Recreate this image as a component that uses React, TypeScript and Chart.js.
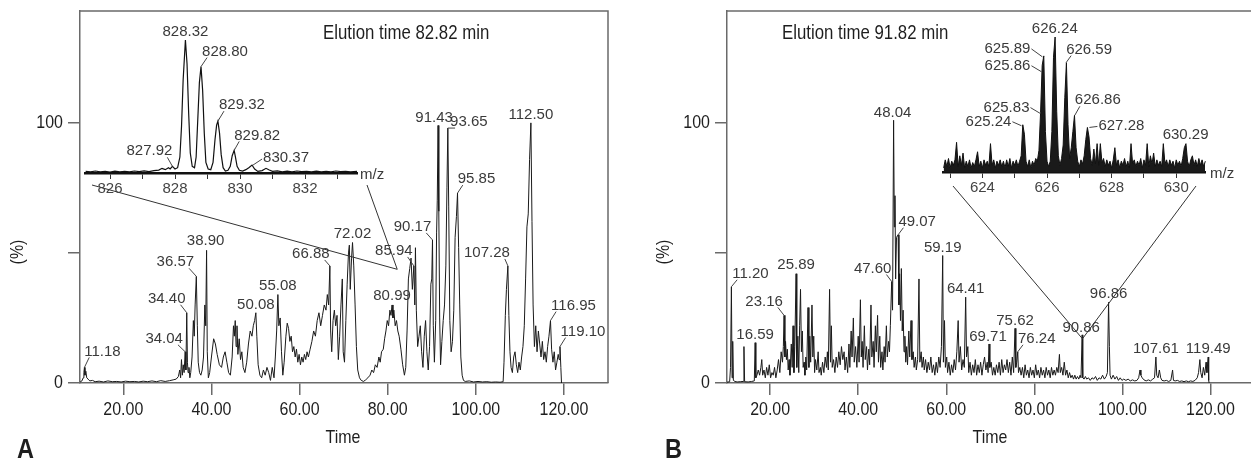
import React, { useEffect, useRef } from 'react';
import { Chart, registerables } from 'chart.js';

Chart.register(...registerables);

const ARIAL = '"Liberation Sans", Arial, Helvetica, sans-serif';
const NARROW_SCALE = 0.84;
const AXIS_GRAY = '#6a6a6a';
const TEXT = '#1e1e1e';
const LABEL_GRAY = '#3a3a3a';

// ---------- main axes ----------
const xTicksMain = [20, 40, 60, 80, 100, 120];
const xTickLabelsMain = ['20.00', '40.00', '60.00', '80.00', '100.00', '120.00'];
const yTicksMain = [0, 50, 100];
const yTickLabelsMain = ['0', '', '100'];

// ---------- Panel A chromatogram: [time (min), relative abundance (%)] ----------
const traceA: [number, number][] = [
  [10.2,0.4],[10.6,0.8],[10.9,2],[11.05,4],[11.18,6],[11.3,3],[11.5,4.5],[11.7,2],[12.0,1.5],[12.4,0.8],[13.0,1],[13.6,0.5],[14.5,0.7],[15.5,0.4],[16.5,0.8],[17.5,0.5],[18.5,0.6],[19.5,0.4],[20.5,0.7],[21.5,0.5],[22.5,0.6],[23.5,0.4],[24.5,0.7],[25.5,0.5],[26.5,0.8],[27.5,0.5],[28.5,0.9],[29.5,0.6],[30.5,0.9],[31.3,1.2],[32.0,1.5],[32.5,2.5],[32.8,5],[33.0,2],[33.2,9],[33.4,3],[33.6,7],[33.8,4],[34.04,12],[34.2,5],[34.40,27],[34.55,8],[34.7,4],[34.9,6],[35.1,2],[35.3,4],[35.6,10],[35.9,24],[36.1,18],[36.3,30],[36.57,41],[36.8,22],[37.0,8],[37.3,4],[37.6,3],[37.9,5],[38.2,10],[38.5,30],[38.7,22],[38.90,51],[39.05,12],[39.3,2],[39.6,4],[40.0,10],[40.5,17],[40.9,15],[41.3,11],[41.8,7],[42.3,6],[42.7,10],[43.1,12],[43.5,8],[43.9,4],[44.3,3],[44.7,10],[45.0,22],[45.2,18],[45.4,24],[45.6,14],[45.8,22],[46.0,11],[46.3,17],[46.6,9],[46.9,12],[47.2,6],[47.6,4],[48.0,8],[48.4,15],[48.8,20],[49.2,18],[49.5,22],[49.8,24],[50.08,27],[50.3,18],[50.6,7],[51.0,3],[51.4,2],[51.8,5],[52.2,3],[52.6,6],[53.0,4],[53.4,1],[53.8,6],[54.2,2],[54.5,10],[54.8,20],[55.08,34],[55.3,22],[55.6,25],[55.9,12],[56.2,3],[56.5,8],[56.9,18],[57.2,23],[57.5,21],[57.8,16],[58.1,18],[58.4,12],[58.7,14],[59.0,10],[59.3,13],[59.6,8],[59.9,11],[60.2,7],[60.5,10],[60.8,8],[61.1,11],[61.4,9],[61.7,12],[62.0,10],[62.4,13],[62.8,16],[63.2,20],[63.6,18],[64.0,24],[64.4,27],[64.8,22],[65.2,26],[65.6,30],[66.0,28],[66.3,34],[66.6,30],[66.88,45],[67.05,20],[67.3,12],[67.6,24],[67.9,28],[68.2,22],[68.5,26],[68.8,9],[69.1,18],[69.4,30],[69.7,40],[69.9,12],[70.2,8],[70.5,24],[70.8,38],[71.1,50],[71.3,53],[71.5,36],[71.8,48],[72.02,54],[72.3,45],[72.6,30],[72.9,14],[73.2,5],[73.6,2],[74.0,1],[74.5,0.6],[75.0,1.2],[75.5,2],[76.0,3],[76.4,5],[76.8,4],[77.2,7],[77.6,6],[78.0,10],[78.3,8],[78.6,12],[79.0,13],[79.3,17],[79.6,20],[79.9,24],[80.2,22],[80.5,28],[80.75,26],[80.99,30],[81.2,25],[81.4,28],[81.7,22],[82.0,24],[82.3,20],[82.6,18],[83.0,13],[83.4,7],[83.8,3],[84.1,6],[84.4,20],[84.7,40],[85.0,44],[85.3,48],[85.6,36],[85.94,45],[86.15,30],[86.3,52],[86.5,28],[86.8,14],[87.1,18],[87.4,22],[87.7,12],[88.0,6],[88.3,18],[88.6,24],[88.9,12],[89.2,5],[89.5,14],[89.8,38],[90.0,40],[90.17,55],[90.35,22],[90.6,8],[90.9,24],[91.1,58],[91.25,70],[91.43,99],[91.6,66],[91.8,25],[92.0,7],[92.3,16],[92.6,24],[92.9,30],[93.2,45],[93.45,75],[93.65,98],[93.85,68],[94.1,24],[94.4,12],[94.7,16],[95.0,28],[95.3,56],[95.6,64],[95.85,73],[96.1,52],[96.35,30],[96.6,10],[96.9,3],[97.2,1],[97.6,0.6],[98.5,0.8],[99.5,0.4],[100.5,0.6],[101.5,0.4],[102.5,0.5],[103.5,0.3],[104.5,0.4],[105.5,0.3],[106.2,0.5],[106.4,8],[106.7,26],[106.95,36],[107.28,45],[107.5,26],[107.75,12],[108.0,6],[108.3,4],[108.6,10],[108.9,12],[109.2,7],[109.5,4],[109.8,8],[110.1,5],[110.4,10],[110.7,14],[111.0,22],[111.3,40],[111.6,60],[111.9,65],[112.2,86],[112.50,100],[112.75,62],[113.0,30],[113.3,14],[113.6,22],[113.9,12],[114.2,20],[114.5,15],[114.8,10],[115.1,16],[115.4,9],[115.7,12],[116.0,8],[116.3,14],[116.6,18],[116.95,24],[117.2,13],[117.5,8],[117.8,12],[118.1,5],[118.4,8],[118.7,11],[118.9,9],[119.10,14],[119.3,6],[119.45,0]
];

// ---------- Panel B chromatogram ----------
const traceB: [number, number][] = [
  [10.2,0.3],[10.8,0.5],[11.0,6],[11.2,37],[11.35,2],[11.5,16],[11.65,1],[12.0,0.6],[12.5,0.4],[13.2,0.5],[13.9,0.6],[14.05,14],[14.2,0.5],[15.0,0.4],[15.8,0.6],[16.4,0.8],[16.59,15.5],[16.75,2],[17.0,3],[17.3,5],[17.6,3],[17.9,6],[18.1,9],[18.3,3],[18.6,5],[18.9,2],[19.2,6],[19.5,3],[19.8,7],[20.1,2],[20.4,4],[20.7,3],[21.0,6],[21.3,2],[21.6,5],[21.9,9],[22.2,4],[22.5,12],[22.8,8],[23.0,14],[23.16,26],[23.35,10],[23.5,16],[23.7,9],[23.9,13],[24.1,5],[24.3,9],[24.5,3],[24.8,15],[25.0,6],[25.2,22],[25.4,4],[25.6,14],[25.89,42],[26.05,6],[26.3,18],[26.5,4],[26.7,22],[26.9,36],[27.1,12],[27.3,20],[27.5,6],[27.7,8],[27.9,3],[28.1,10],[28.3,5],[28.6,29],[28.8,6],[29.0,18],[29.2,8],[29.5,30],[29.7,10],[29.9,18],[30.1,4],[30.3,9],[30.6,5],[30.9,12],[31.1,4],[31.4,6],[31.6,3],[31.9,8],[32.2,4],[32.5,10],[32.8,6],[33.0,12],[33.2,5],[33.5,36],[33.7,8],[33.9,22],[34.1,6],[34.4,9],[34.7,4],[35.0,10],[35.3,6],[35.6,12],[35.9,7],[36.2,14],[36.5,9],[36.8,12],[37.0,5],[37.3,10],[37.6,4],[37.9,15],[38.1,6],[38.4,20],[38.6,10],[38.9,25],[39.1,8],[39.4,14],[39.7,6],[40.0,18],[40.2,8],[40.5,32],[40.7,10],[40.9,16],[41.1,6],[41.4,22],[41.6,9],[41.9,14],[42.1,5],[42.4,13],[42.6,7],[42.9,30],[43.1,10],[43.4,16],[43.6,6],[43.9,22],[44.1,12],[44.4,26],[44.6,8],[44.9,18],[45.1,6],[45.4,12],[45.6,5],[45.9,14],[46.1,8],[46.4,22],[46.6,10],[46.9,16],[47.1,12],[47.3,22],[47.60,39],[47.8,28],[48.04,101],[48.2,60],[48.35,72],[48.5,40],[48.7,56],[49.07,57],[49.25,30],[49.4,42],[49.6,24],[49.8,44],[50.0,20],[50.2,28],[50.4,12],[50.6,18],[50.8,8],[51.0,14],[51.2,7],[51.5,20],[51.7,10],[52.0,24],[52.2,9],[52.5,12],[52.7,6],[53.0,10],[53.2,5],[53.5,9],[53.8,40],[54.0,8],[54.3,12],[54.5,6],[54.8,10],[55.0,5],[55.3,9],[55.6,4],[55.9,8],[56.2,5],[56.5,10],[56.8,4],[57.1,7],[57.4,3],[57.7,8],[58.0,4],[58.3,10],[58.6,6],[58.9,14],[59.19,49],[59.35,8],[59.6,24],[59.8,6],[60.1,10],[60.3,4],[60.6,8],[60.9,3],[61.2,7],[61.5,4],[61.8,9],[62.1,5],[62.4,12],[62.7,24],[62.9,8],[63.2,14],[63.5,5],[63.8,9],[64.1,6],[64.41,33],[64.6,10],[64.9,14],[65.1,4],[65.4,8],[65.7,3],[66.0,7],[66.3,4],[66.6,9],[66.9,3],[67.2,7],[67.5,4],[67.8,8],[68.1,3],[68.4,7],[68.7,10],[69.0,5],[69.3,8],[69.5,4],[69.71,15],[69.9,6],[70.2,8],[70.5,3],[70.8,6],[71.1,3],[71.4,7],[71.7,4],[72.0,8],[72.3,3],[72.6,9],[72.9,4],[73.2,7],[73.5,5],[73.8,9],[74.1,4],[74.4,8],[74.7,3],[75.0,10],[75.3,4],[75.62,21],[75.8,6],[76.0,8],[76.24,12],[76.4,4],[76.7,6],[77.0,3],[77.3,6],[77.6,2],[77.9,7],[78.2,3],[78.5,5],[78.8,2],[79.1,6],[79.4,3],[79.7,5],[80.0,2],[80.3,7],[80.6,3],[80.9,5],[81.2,2],[81.5,6],[81.8,3],[82.1,5],[82.4,2],[82.7,6],[83.0,3],[83.3,5],[83.6,2],[83.9,6],[84.2,3],[84.5,5],[84.8,3],[85.1,6],[85.4,4],[85.7,11],[85.9,4],[86.2,6],[86.5,3],[86.8,8],[87.1,3],[87.4,5],[87.7,2],[88.0,4],[88.3,2],[88.6,3],[88.9,1.5],[89.2,3],[89.5,1.5],[89.8,2.5],[90.1,1.5],[90.4,3],[90.6,2],[90.86,18.5],[91.0,2],[91.3,1.5],[91.6,2.5],[91.9,1.5],[92.3,2],[92.7,1],[93.1,2],[93.5,1.5],[93.9,2.5],[94.3,1],[94.7,2],[95.1,1.5],[95.5,3],[95.9,1.5],[96.3,2.5],[96.6,4],[96.86,31],[97.05,14],[97.2,3],[97.5,1.5],[97.9,3],[98.3,1.5],[98.7,2.5],[99.1,1],[99.5,2],[99.9,1],[100.3,1.5],[100.8,1],[101.3,1.5],[101.8,0.8],[102.3,1.2],[102.8,0.8],[103.3,1],[103.7,2],[104.0,5],[104.2,3],[104.5,2],[104.9,1.2],[105.4,0.8],[105.9,1.2],[106.4,0.8],[106.9,1.5],[107.3,2],[107.61,10],[107.8,3],[108.1,2],[108.4,5],[108.7,2],[109.0,1],[109.5,0.8],[110.0,1],[110.5,0.6],[111.0,1],[111.4,5],[111.6,1],[112.0,0.8],[112.5,1],[113.0,0.6],[113.5,0.8],[114.0,0.5],[114.5,0.8],[115.0,0.5],[115.5,0.8],[116.0,0.6],[116.5,1],[117.0,2],[117.3,4],[117.6,9],[117.8,4],[118.1,2],[118.4,6],[118.7,3],[119.0,8],[119.2,4],[119.49,10],[119.6,1],[119.7,0]
];

// ---------- Peak labels (text, x value, y value) ----------
type Lbl = [string, number, number];
const peakLabelsA: Lbl[] = [
  ['11.18',11.18,6],['34.04',34.04,12],['34.40',34.40,27],['36.57',36.57,41],['38.90',38.90,51],['50.08',50.08,27],['55.08',55.08,34],['66.88',66.88,45],['72.02',72.02,54],['80.99',80.99,30],['85.94',85.94,45],['90.17',90.17,55],['91.43',91.43,99],['93.65',93.65,98],['95.85',95.85,73],['107.28',107.28,45],['112.50',112.50,100],['116.95',116.95,24],['119.10',119.10,14]
];
const peakLabelsB: Lbl[] = [
  ['11.20',11.2,37],['16.59',16.59,15.5],['23.16',23.16,26],['25.89',25.89,42],['47.60',47.60,39],['48.04',48.04,101],['49.07',49.07,57],['59.19',59.19,49],['64.41',64.41,33],['69.71',69.71,15],['75.62',75.62,21],['76.24',76.24,12],['90.86',90.86,18.5],['96.86',96.86,31],['107.61',107.61,10],['119.49',119.49,10]
];

// ---------- Inset A: mass spectrum at 82.82 min [m/z, relative intensity] ----------
const insetA: [number, number][] = [
  [825.25,1.2],[825.4,0.8],[825.55,1.5],[825.7,0.9],[825.85,1.3],[826.0,0.7],[826.15,1.4],[826.3,0.9],[826.45,1.2],[826.6,0.8],[826.75,1.5],[826.9,1.0],[827.05,1.6],[827.2,1.1],[827.35,1.8],[827.5,2.2],[827.6,3.5],[827.7,2.5],[827.8,4],[827.85,3],[827.92,5],[828.0,3],[828.08,4],[828.15,12],[828.2,35],[828.25,70],[828.32,100],[828.37,82],[828.42,45],[828.47,15],[828.53,5],[828.6,4],[828.65,12],[828.7,40],[828.75,68],[828.80,80],[828.85,62],[828.9,30],[828.95,8],[829.02,3],[829.1,2.5],[829.17,8],[829.23,25],[829.28,36],[829.32,39],[829.37,30],[829.42,14],[829.48,4],[829.55,1.5],[829.63,2],[829.7,5],[829.76,13],[829.82,17],[829.86,12],[829.91,5],[829.98,2],[830.08,1.5],[830.18,2.5],[830.27,4],[830.37,6],[830.45,3],[830.55,1.2],[830.68,1.8],[830.8,3.5],[830.9,2.2],[831.0,1.2],[831.15,1.6],[831.3,0.9],[831.45,1.4],[831.6,0.8],[831.75,1.5],[831.9,1.0],[832.05,1.3],[832.2,0.8],[832.35,1.4],[832.5,0.9],[832.65,1.3],[832.8,0.8],[832.95,1.5],[833.1,1.0],[833.25,1.3],[833.4,0.9],[833.6,1.2]
];
const insetTicksA = [826, 827, 828, 829, 830, 831, 832, 833];
const insetTickLabelsA = ['826', '', '828', '', '830', '', '832', ''];
const insetLabelsA: Lbl[] = [
  ['828.32',828.32,100],['828.80',828.80,80],['829.32',829.32,39],['829.82',829.82,17],['830.37',830.37,6],['827.92',827.92,5]
];

// ---------- Inset B: mass spectrum at 91.82 min, sampled every 0.05 m/z from 622.80 ----------
const insetBStartMz = 622.8;
const insetBStepMz = 0.05;
const insetBValues = [
  3,9,4,10,3,8,5,9,22,4,12,5,14,3,8,4,9,3,7,4,
  9,15,4,8,3,9,5,8,4,21,5,9,3,8,5,9,4,8,3,9,
  4,10,3,8,5,9,4,8,12,35,28,8,4,9,3,8,5,10,8,16,
  44,79,86,30,8,4,8,30,85,100,45,12,5,10,20,55,81,35,10,18,
  30,42,18,8,4,9,6,12,24,33,26,10,5,17,6,21,5,21,7,10,
  4,9,5,8,3,9,18,5,9,3,8,5,10,4,8,3,21,6,9,4,
  8,5,10,3,9,5,21,4,12,6,14,4,9,5,8,4,21,6,9,4,
  9,5,8,3,9,5,8,4,10,18,21,8,4,9,12,5,9,4,10,5,
  9,4,8
];
const insetTicksB = [623, 624, 625, 626, 627, 628, 629, 630];
const insetTickLabelsB = ['', '624', '', '626', '', '628', '', '630'];
const insetLabelsB: Lbl[] = [
  ['626.24',626.24,100],['625.89',625.89,86],['625.86',625.86,75],['625.83',625.83,44],['625.24',625.24,35],['626.59',626.59,81],['626.86',626.86,42],['627.28',627.28,33],['630.29',630.29,21]
];

// ---------- Layout (label offsets in px: dx, dy, leader mode) ----------
type Lay = [number, number, number];
const layoutA: Lay[] = [
  [18,-16,1],[-21,-13,1],[-20,-14,1],[-21,-14,1],[-1,-9,0],[0,-8,0],[0,-9,0],[-19,-12,1],[0,-9,0],[0,-9,0],[-20,-15,1],[-20,-13,1],[-4,-8,0],[21,-6,1],[19,-14,1],[-21,-13,1],[0,-8,0],[23,-15,1],[23,-15,1]
];
const layoutB: Lay[] = [
  [19,-13,1],[0,-8,0],[-20,-14,1],[0,-9,0],[-19,-13,1],[-1,-7,0],[19,-13,1],[0,-8,0],[0,-8,0],[-1,-7,0],[0,-8,0],[19,-13,1],[-1,-7,0],[0,-8,0],[0,-8,0],[0,-8,0]
];
const layoutInsetA: Lay[] = [[0,-8,0],[24,-15,1],[24,-16,1],[23,-15,1],[34,-7,2],[-23,-15,1]];
const layoutInsetB: Lay[] = [[0,-8,0],[-36,-7,2],[-35,-5,2],[-35,-5,2],[-34,-3,2],[23,-13,1],[23,-15,1],[33,-2,2],[0,-9,0]];

function narrowText(ctx: any, text: string, x: number, y: number, size: number, align: string, opts: { bold?: boolean; baseline?: string; rotate?: number } = {}) {
  ctx.save();
  ctx.font = `${opts.bold ? 'bold ' : ''}${size}px ${ARIAL}`;
  ctx.fillStyle = TEXT;
  ctx.textAlign = align;
  ctx.textBaseline = opts.baseline || 'middle';
  ctx.translate(x, y);
  if (opts.rotate) ctx.rotate(opts.rotate);
  ctx.scale(NARROW_SCALE, 1);
  ctx.fillText(text, 0, 0);
  ctx.restore();
}

function drawPeakLabels(chart: any, labels: Lbl[], layout: Lay[]) {
  const ctx = chart.ctx;
  const xs = chart.scales.x;
  const ys = chart.scales.y;
  ctx.save();
  ctx.font = `15px ${ARIAL}`;
  ctx.fillStyle = LABEL_GRAY;
  ctx.strokeStyle = '#444';
  ctx.lineWidth = 1;
  ctx.textAlign = 'center';
  ctx.textBaseline = 'middle';
  labels.forEach((l, i) => {
    const [dx, dy, mode] = layout[i];
    const px = xs.getPixelForValue(l[1]);
    const py = ys.getPixelForValue(l[2]);
    const tx = px + dx;
    const ty = py + dy;
    const w = ctx.measureText(l[0]).width;
    ctx.fillText(l[0], tx, ty);
    let seg: number[] | null = null;
    if (mode === 1) {
      const ex = dx < 0 ? tx + w / 2 - 5 : tx - w / 2 + 5;
      seg = [px, py, ex, ty + 6];
    } else if (mode === 2) {
      seg = dx < 0 ? [tx + w / 2 + 1, ty, px - 1, py + 1] : [px + 1, py, tx - w / 2 - 1, ty + 1];
    }
    if (seg) {
      ctx.beginPath();
      ctx.moveTo(seg[0], seg[1]);
      ctx.lineTo(seg[2], seg[3]);
      ctx.stroke();
    }
  });
  ctx.restore();
}

type Panel = {
  left: number; width: number; yAxisWidth: number; padRight: number; xMin: number; xMax: number;
  trace: [number, number][]; labels: Lbl[]; layout: Lay[];
  title: string; titleX: number; letter: string; letterX: number; pctX: number; timeX: number;
  rightBorder: boolean; connectFrom: number[][]; connectTo: [number, number];
};

const panelA: Panel = {
  left: 0, width: 625, yAxisWidth: 80, padRight: 17, xMin: 10.17, xMax: 130,
  trace: traceA, labels: peakLabelsA, layout: layoutA,
  title: 'Elution time 82.82 min', titleX: 323, letter: 'A', letterX: 17, pctX: 18, timeX: 343,
  rightBorder: true, connectFrom: [[92, 185], [367, 185]], connectTo: [82.17, 43.7]
};
const panelB: Panel = {
  left: 630, width: 621, yAxisWidth: 97, padRight: 0, xMin: 10.2, xMax: 129.21,
  trace: traceB, labels: peakLabelsB, layout: layoutB,
  title: 'Elution time 91.82 min', titleX: 152, letter: 'B', letterX: 35, pctX: 34, timeX: 360,
  rightBorder: false, connectFrom: [[323, 186], [566, 186]], connectTo: [90.93, 17]
};

function mainConfig(p: Panel): any {
  const decor = {
    id: 'decor' + p.letter,
    afterDatasetsDraw(chart: any) {
      drawPeakLabels(chart, p.labels, p.layout);
      const ctx = chart.ctx;
      const xs = chart.scales.x;
      const ys = chart.scales.y;
      const ex = xs.getPixelForValue(p.connectTo[0]);
      const ey = ys.getPixelForValue(p.connectTo[1]);
      ctx.save();
      ctx.strokeStyle = '#333';
      ctx.lineWidth = 1;
      p.connectFrom.forEach(([sx, sy]) => {
        ctx.beginPath();
        ctx.moveTo(sx, sy);
        ctx.lineTo(ex, ey);
        ctx.stroke();
      });
      ctx.restore();
    },
    afterDraw(chart: any) {
      const ctx = chart.ctx;
      const a = chart.chartArea;
      const xs = chart.scales.x;
      const ys = chart.scales.y;
      ctx.save();
      ctx.strokeStyle = AXIS_GRAY;
      ctx.lineWidth = 1.5;
      ctx.beginPath();
      ctx.moveTo(a.left, a.top);
      ctx.lineTo(a.right, a.top);
      if (p.rightBorder) ctx.lineTo(a.right, a.bottom);
      ctx.stroke();
      ctx.restore();
      xs.ticks.forEach((t: any) => {
        const lab = xTickLabelsMain[xTicksMain.indexOf(t.value)] ?? '';
        narrowText(ctx, lab, xs.getPixelForValue(t.value), a.bottom + 27, 19, 'center');
      });
      ys.ticks.forEach((t: any) => {
        const lab = yTickLabelsMain[yTicksMain.indexOf(t.value)] ?? '';
        if (lab) narrowText(ctx, lab, a.left - 17, ys.getPixelForValue(t.value), 19, 'right');
      });
      narrowText(ctx, p.title, p.titleX, 33, 20, 'left');
      narrowText(ctx, 'Time', p.timeX, 438, 19, 'center');
      narrowText(ctx, '(%)', p.pctX, 252, 19, 'center', { rotate: -Math.PI / 2 });
      narrowText(ctx, p.letter, p.letterX, 458, 28, 'left', { bold: true, baseline: 'alphabetic' });
    }
  };
  return {
    type: 'line',
    data: {
      datasets: [{
        data: p.trace.map(([x, y]) => ({ x, y })),
        borderColor: '#1a1a1a', borderWidth: 1, pointRadius: 0, tension: 0, fill: false
      }]
    },
    options: {
      responsive: false, animation: false, events: [],
      layout: { padding: { top: 11, right: p.padRight, left: 0, bottom: 0 } },
      plugins: { legend: { display: false }, tooltip: { enabled: false } },
      scales: {
        x: {
          type: 'linear', min: p.xMin, max: p.xMax,
          afterFit: (s: any) => { s.height = 76; },
          afterBuildTicks: (s: any) => { s.ticks = xTicksMain.map((v) => ({ value: v })); },
          ticks: { display: false, autoSkip: false },
          grid: { drawOnChartArea: false, drawTicks: true, tickLength: 12, color: AXIS_GRAY, lineWidth: 1.5 },
          border: { display: true, color: AXIS_GRAY, width: 1.5 }
        },
        y: {
          type: 'linear', min: 0, max: 143,
          afterFit: (s: any) => { s.width = p.yAxisWidth; },
          afterBuildTicks: (s: any) => { s.ticks = yTicksMain.map((v) => ({ value: v })); },
          ticks: { display: false, autoSkip: false },
          grid: { drawOnChartArea: false, drawTicks: true, tickLength: 12, color: AXIS_GRAY, lineWidth: 1.5 },
          border: { display: true, color: AXIS_GRAY, width: 1.5 }
        }
      }
    },
    plugins: [decor]
  };
}

type Inset = {
  id: string; data: { x: number; y: number }[]; xMin: number; xMax: number;
  ticks: number[]; tickLabels: string[]; labels: Lbl[]; layout: Lay[];
  pad: { left: number; right: number; top: number }; axisH: number; mzDx: number; lineW: number; fill: boolean;
};

function insetConfig(s: Inset): any {
  const deco = {
    id: 'inset' + s.id,
    afterDatasetsDraw(chart: any) {
      drawPeakLabels(chart, s.labels, s.layout);
      const ctx = chart.ctx;
      const a = chart.chartArea;
      ctx.save();
      ctx.font = `15px ${ARIAL}`;
      ctx.fillStyle = LABEL_GRAY;
      ctx.textAlign = 'left';
      ctx.textBaseline = 'middle';
      ctx.fillText('m/z', a.right + s.mzDx, a.bottom + 2);
      ctx.restore();
    }
  };
  return {
    type: 'line',
    data: {
      datasets: [{
        data: s.data, borderColor: '#111', borderWidth: s.lineW, pointRadius: 0, tension: 0,
        fill: s.fill ? 'origin' : false, backgroundColor: '#1a1a1a', clip: false
      }]
    },
    options: {
      responsive: false, animation: false, events: [],
      layout: { padding: { top: s.pad.top, right: s.pad.right, left: s.pad.left, bottom: 0 } },
      plugins: { legend: { display: false }, tooltip: { enabled: false } },
      scales: {
        x: {
          type: 'linear', min: s.xMin, max: s.xMax,
          afterFit: (sc: any) => { sc.height = s.axisH; },
          afterBuildTicks: (sc: any) => { sc.ticks = s.ticks.map((v) => ({ value: v })); },
          ticks: {
            callback: (v: any) => s.tickLabels[s.ticks.indexOf(Number(v))] ?? '',
            font: { family: ARIAL, size: 15 }, color: '#444', padding: 1, maxRotation: 0, autoSkip: false
          },
          grid: { drawOnChartArea: false, drawTicks: true, tickLength: 6, color: '#333', lineWidth: 1 },
          border: { display: true, color: '#111', width: 2.5 }
        },
        y: { display: false, min: 0, max: 100 }
      }
    },
    plugins: [deco]
  };
}

const insetAConf: Inset = {
  id: 'A', data: insetA.map(([x, y]) => ({ x, y })), xMin: 825.23, xMax: 833.6,
  ticks: insetTicksA, tickLabels: insetTickLabelsA, labels: insetLabelsA, layout: layoutInsetA,
  pad: { left: 5, right: 43, top: 20 }, axisH: 32, mzDx: 3, lineW: 1.2, fill: false
};
const insetBConf: Inset = {
  id: 'B', data: insetBValues.map((y, i) => ({ x: insetBStartMz + i * insetBStepMz, y })), xMin: 622.78, xMax: 630.89,
  ticks: insetTicksB, tickLabels: insetTickLabelsB, labels: insetLabelsB, layout: layoutInsetB,
  pad: { left: 8, right: 46, top: 17 }, axisH: 33, mzDx: 5, lineW: 1, fill: true
};

function ChartCanvas({ make, left, top, width, height }: { make: () => any; left: number; top: number; width: number; height: number }) {
  const ref = useRef<HTMLCanvasElement | null>(null);
  useEffect(() => {
    if (!ref.current) return;
    const chart = new Chart(ref.current, make());
    return () => chart.destroy();
  }, []);
  return (
    <canvas
      ref={ref}
      width={width}
      height={height}
      style={{ position: 'absolute', left, top, width, height, display: 'block' }}
    />
  );
}

export default function App() {
  return (
    <div style={{ position: 'absolute', left: 0, top: 0, width: 1251, height: 459, background: '#fff', overflow: 'hidden' }}>
      <ChartCanvas make={() => mainConfig(panelA)} left={panelA.left} top={0} width={panelA.width} height={459} />
      <ChartCanvas make={() => mainConfig(panelB)} left={panelB.left} top={0} width={panelB.width} height={459} />
      <ChartCanvas make={() => insetConfig(insetAConf)} left={80} top={20} width={320} height={185} />
      <ChartCanvas make={() => insetConfig(insetBConf)} left={935} top={20} width={316} height={185} />
    </div>
  );
}
